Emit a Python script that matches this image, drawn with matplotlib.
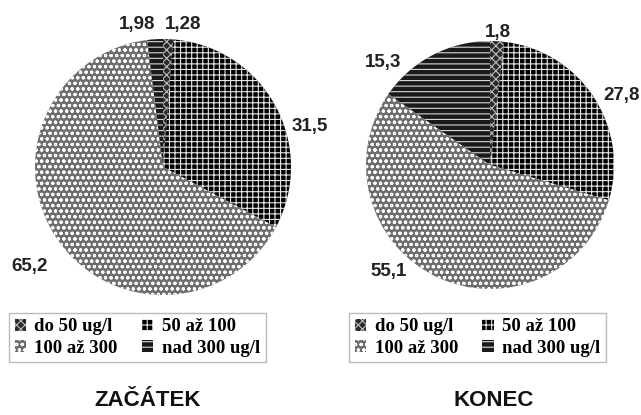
import matplotlib
matplotlib.use('Agg')
import matplotlib.pyplot as plt

# podíly vzorků podle koncentrace (%)
kategorie = ['do 50 ug/l', '50 až 100', '100 až 300', 'nad 300 ug/l']
zacatek = [1.28, 31.5, 65.2, 1.98]
konec = [1.8, 27.8, 55.1, 15.3]
zacatek_popisky = ['1,28', '31,5', '65,2', '1,98']
konec_popisky = ['1,8', '27,8', '55,1', '15,3']

# vzhled výsečí (výplň, barva šrafování, šrafování)
vyplne = ['#2a2a2a', '#000000', '#6e6e6e', '#1a1a1a']
barvy_sraf = ['#bdbdbd', '#e6e6e6', '#ffffff', '#d8d8d8']
srafy = ['xxxx', '+++', 'ooo', '---']

plt.rcParams['hatch.linewidth'] = 0.8

fig = plt.figure(figsize=(6.41, 4.15), dpi=100)


def kolac(rect, hodnoty, popisky, pozice, nazev, nazev_x, legenda_x):
    ax = fig.add_axes(rect)
    wedges, _ = ax.pie(hodnoty, startangle=90, counterclock=False,
                       colors=vyplne, wedgeprops=dict(linewidth=0))
    for w, h, c in zip(wedges, srafy, barvy_sraf):
        w.set_hatch(h)
        w.set_edgecolor(c)
    ax.set_xlim(-1, 1)
    ax.set_ylim(-1, 1)
    ax.set_aspect('equal')
    ax.axis('off')
    for txt, (x, y) in zip(popisky, pozice):
        ax.text(x, y, txt, ha='center', va='center', fontsize=13.5,
                fontweight='bold', color='#222222', family='Liberation Sans')
    # legenda po řádcích: do 50, 50-100 / 100-300, nad 300
    poradi = [0, 2, 1, 3]
    fig.legend([wedges[i] for i in poradi], [kategorie[i] for i in poradi],
               ncol=2, loc='center',
               bbox_to_anchor=(legenda_x, 0.1867), frameon=True,
               fancybox=False, edgecolor='#bbbbbb', framealpha=1,
               prop=dict(family='Liberation Serif', weight='bold', size=13.5),
               handlelength=0.6, handleheight=0.6, handletextpad=0.45,
               columnspacing=1.3, labelspacing=0.25, borderpad=0.3,
               borderaxespad=0)
    fig.text(nazev_x, 0.034, nazev, ha='center', va='center', fontsize=16,
             fontweight='bold', family='Liberation Sans', color='#111111')
    return ax


kolac([35 / 641, 120 / 415, 256 / 641, 256 / 415], zacatek, zacatek_popisky,
      [(0.16, 1.11), (1.15, 0.32), (-1.04, -0.78), (-0.2, 1.11)],
      'ZAČÁTEK', 0.23, 0.2145)
kolac([0.571, 0.3036, 0.3869, 0.5976], konec, konec_popisky,
      [(0.065, 1.07), (1.06, 0.56), (-0.82, -0.86), (-0.86, 0.83)],
      'KONEC', 0.77, 0.745)

fig.savefig('out.png', dpi=100)
